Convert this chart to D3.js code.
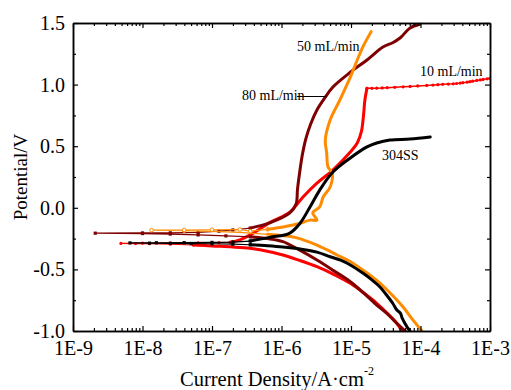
<!DOCTYPE html>
<html><head><meta charset="utf-8">
<script src="https://cdn.jsdelivr.net/npm/d3@7/dist/d3.min.js"></script>
<style>body{margin:0;background:#fff}svg{display:block}</style>
</head><body>
<svg id="chart" width="511" height="390"></svg>
<script>
// ---------- data (points are [log10(current density / A·cm^-2), potential / V]) ----------
const xTickValues = [1e-9, 1e-8, 1e-7, 1e-6, 1e-5, 1e-4, 1e-3];
const xTickLabels = ["1E-9", "1E-8", "1E-7", "1E-6", "1E-5", "1E-4", "1E-3"];
const yTickValues = [-1.0, -0.5, 0.0, 0.5, 1.0, 1.5];
const yTickLabels = ["-1.0", "-0.5", "0.0", "0.5", "1.0", "1.5"];
const seriesNames = ["10 mL/min", "80 mL/min", "50 mL/min", "304SS"];

// 10 mL/min
const red10Cathodic = [[-4.27,-1.0],[-4.34,-0.938],[-4.48,-0.855],[-4.63,-0.775],[-4.82,-0.69],[-5.01,-0.613],[-5.25,-0.54],[-5.49,-0.478],[-5.75,-0.425],[-5.98,-0.383],[-6.31,-0.34],[-6.45,-0.328],[-6.70,-0.318],[-7.0,-0.31],[-7.27,-0.302]];
const red10Spike = [[-7.27,-0.302],[-7.6,-0.296],[-7.9,-0.292],[-8.1,-0.29],[-8.31,-0.289],[-8.0,-0.287],[-7.6,-0.286],[-7.2,-0.285],[-6.9,-0.283],[-6.74,-0.28]];
const red10Anodic = [[-6.74,-0.28],[-6.6,-0.26],[-6.45,-0.22],[-6.17,-0.12],[-5.88,-0.035],[-5.69,0.088],[-5.49,0.2],[-5.26,0.307],[-5.01,0.453],[-4.91,0.526],[-4.85,0.62],[-4.82,0.75],[-4.80,0.875],[-4.77,0.97]];
const red10Plateau = [[-4.77,0.97],[-4.70,0.970],[-4.63,0.971],[-4.55,0.973],[-4.48,0.975],[-4.37,0.978],[-4.25,0.982],[-4.15,0.985],[-4.04,0.989],[-3.91,0.993],[-3.82,0.996],[-3.75,0.999],[-3.68,1.002],[-3.60,1.004],[-3.53,1.006],[-3.48,1.009],[-3.43,1.012],[-3.39,1.016],[-3.33,1.020],[-3.29,1.024],[-3.25,1.028],[-3.19,1.034],[-3.14,1.038],[-3.10,1.042],[-3.04,1.047],[-3.00,1.051]];

// 80 mL/min
const dred80Cathodic = [[-4.22,-1.0],[-4.34,-0.938],[-4.48,-0.86],[-4.63,-0.789],[-4.82,-0.69],[-5.01,-0.60],[-5.25,-0.51],[-5.49,-0.424],[-5.75,-0.34],[-5.98,-0.275],[-6.2,-0.25],[-6.45,-0.235]];
const dred80Spike = [[-6.45,-0.235],[-6.8,-0.228],[-7.2,-0.22],[-7.6,-0.213],[-8.0,-0.209],[-8.68,-0.206],[-8.0,-0.204],[-7.6,-0.203],[-7.2,-0.2],[-6.9,-0.19],[-6.7,-0.18],[-6.45,-0.165]];
const dred80Anodic = [[-6.45,-0.165],[-6.17,-0.123],[-5.88,-0.042],[-5.79,0.03],[-5.77,0.15],[-5.74,0.282],[-5.70,0.43],[-5.65,0.56],[-5.58,0.68],[-5.49,0.794],[-5.38,0.89],[-5.26,0.98],[-5.01,1.10],[-4.77,1.20],[-4.54,1.305],[-4.40,1.34],[-4.29,1.38],[-4.15,1.46],[-4.01,1.49]];

// 50 mL/min
const or50Cathodic = [[-3.98,-1.0],[-4.11,-0.91],[-4.25,-0.805],[-4.48,-0.667],[-4.65,-0.58],[-4.83,-0.505],[-5.0,-0.44],[-5.20,-0.383],[-5.35,-0.34],[-5.49,-0.302],[-5.69,-0.26],[-5.83,-0.237],[-6.2,-0.215],[-6.6,-0.2],[-7.0,-0.192],[-7.4,-0.186]];
const or50Spike = [[-7.4,-0.186],[-7.87,-0.182],[-7.4,-0.18],[-7.0,-0.178],[-6.6,-0.176],[-6.45,-0.19],[-6.2,-0.175]];
const or50Anodic = [[-6.2,-0.175],[-5.98,-0.156],[-5.75,-0.13],[-5.59,-0.10],[-5.49,-0.10],[-5.55,-0.04],[-5.45,0.007],[-5.40,0.088],[-5.30,0.169],[-5.27,0.282],[-5.33,0.33],[-5.35,0.445],[-5.37,0.55],[-5.30,0.713],[-5.16,0.875],[-5.01,1.06],[-4.91,1.20],[-4.83,1.305],[-4.71,1.43]];

// 304SS
const ss304Cathodic = [[-4.15,-1.0],[-4.19,-0.97],[-4.26,-0.90],[-4.29,-0.855],[-4.34,-0.83],[-4.40,-0.775],[-4.50,-0.70],[-4.58,-0.645],[-4.70,-0.585],[-4.83,-0.53],[-5.01,-0.464],[-5.15,-0.425],[-5.30,-0.397],[-5.49,-0.36],[-5.73,-0.335],[-5.98,-0.318],[-6.2,-0.308],[-6.45,-0.30]];
const ss304Spike = [[-6.45,-0.30],[-6.7,-0.295],[-7.0,-0.292],[-7.3,-0.29],[-7.6,-0.288],[-7.9,-0.287],[-8.18,-0.285],[-7.8,-0.284],[-7.4,-0.283],[-7.0,-0.281],[-6.7,-0.278],[-6.45,-0.27]];
const ss304Anodic = [[-6.45,-0.27],[-6.17,-0.24],[-5.88,-0.205],[-5.73,-0.123],[-5.59,0.007],[-5.45,0.144],[-5.26,0.29],[-5.01,0.404],[-4.77,0.494],[-4.63,0.526],[-4.44,0.55],[-4.15,0.558],[-3.86,0.575]];

// ---------- drawing ----------
const W = 511, H = 390;
const M = {left: 73, right: 21, top: 23, bottom: 59};
const svg = d3.select("#chart");
const x = d3.scaleLog().domain([1e-9, 1e-3]).range([M.left, W - M.right]);
const y = d3.scaleLinear().domain([-1.0, 1.5]).range([H - M.bottom, M.top]);
const FONT = "'Liberation Serif','Times New Roman',serif";

const minorX = [];
for (let e = -9; e < -3; e++) for (let k = 2; k <= 9; k++) minorX.push(k * Math.pow(10, e));
const minorY = [-0.75, -0.25, 0.25, 0.75, 1.25];

svg.append("defs").append("clipPath").attr("id", "plotclip")
  .append("rect").attr("x", M.left).attr("y", M.top - 2)
  .attr("width", W - M.left - M.right).attr("height", H - M.top - M.bottom + 2);

const smooth = d3.line().x(d => x(Math.pow(10, d[0]))).y(d => y(d[1])).curve(d3.curveCatmullRom.alpha(0.5));
const straight = d3.line().x(d => x(Math.pow(10, d[0]))).y(d => y(d[1]));
const plot = svg.append("g").attr("clip-path", "url(#plotclip)");

function thick(data, color) {
  plot.append("path").datum(data).attr("d", smooth).attr("fill", "none")
    .attr("stroke", color).attr("stroke-width", 3).attr("stroke-linejoin", "round").attr("stroke-linecap", "round");
}
function thin(data, color, w) {
  plot.append("path").datum(data).attr("d", straight).attr("fill", "none")
    .attr("stroke", color).attr("stroke-width", w || 1.2).attr("stroke-linejoin", "round");
}
function markers(data, color, shape) {
  const g = plot.append("g");
  data.forEach(d => {
    const cx = x(Math.pow(10, d[0])), cy = y(d[1]);
    if (shape === "square") g.append("rect").attr("x", cx - 1.6).attr("y", cy - 1.6).attr("width", 3.2).attr("height", 3.2).attr("fill", color);
    else if (shape === "open") g.append("circle").attr("cx", cx).attr("cy", cy).attr("r", 1.8).attr("fill", "#fff").attr("stroke", color).attr("stroke-width", 1);
    else g.append("circle").attr("cx", cx).attr("cy", cy).attr("r", 1.6).attr("fill", color);
  });
}

const C = {red: "#ff0000", dred: "#7f0000", orange: "#ff8c00", black: "#000000"};

// 10 mL/min
thick(red10Cathodic, C.red); thin(red10Spike, C.red); markers(red10Spike, C.red, "dot");
thick(red10Anodic, C.red); thin(red10Plateau, C.red, 1.5); markers(red10Plateau, C.red, "dot");
// 80 mL/min
thick(dred80Cathodic, C.dred); thin(dred80Spike, C.dred); markers(dred80Spike, C.dred, "square");
thick(dred80Anodic, C.dred);
// 50 mL/min
thick(or50Cathodic.slice(0, 13), C.orange); thin(or50Cathodic.slice(12), C.orange);
thin(or50Spike, C.orange); markers(or50Spike, C.orange, "open");
thick(or50Anodic, C.orange);
// 304SS
thick(ss304Cathodic, C.black); thin(ss304Spike, C.black); markers(ss304Spike, C.black, "square");
thick(ss304Anodic, C.black);

// ---------- axes ----------
function styleAxis(g) {
  g.select(".domain").attr("stroke", "#000").attr("stroke-width", 1.5);
  g.selectAll(".tick line").attr("stroke", "#000").attr("stroke-width", 1.2);
  g.selectAll("text").attr("font-family", FONT).attr("font-size", 20).attr("fill", "#000");
}
const bottomY = H - M.bottom, rightX = W - M.right;
const fmtX = d => xTickLabels[xTickValues.indexOf(d)];
const fmtY = d => yTickLabels[yTickValues.indexOf(d)];

svg.append("g").attr("transform", `translate(0,${bottomY})`)
  .call(d3.axisBottom(x).tickValues(minorX).tickSize(-3).tickFormat("").tickSizeOuter(0)).call(styleAxis);
svg.append("g").attr("transform", `translate(0,${bottomY})`)
  .call(d3.axisBottom(x).tickValues(xTickValues).tickSize(-5).tickPadding(10).tickFormat(fmtX).tickSizeOuter(0)).call(styleAxis);
svg.append("g").attr("transform", `translate(0,${M.top})`)
  .call(d3.axisTop(x).tickValues(minorX).tickSize(-3).tickFormat("").tickSizeOuter(0)).call(styleAxis);
svg.append("g").attr("transform", `translate(0,${M.top})`)
  .call(d3.axisTop(x).tickValues(xTickValues).tickSize(-5).tickFormat("").tickSizeOuter(0)).call(styleAxis);

svg.append("g").attr("transform", `translate(${M.left},0)`)
  .call(d3.axisLeft(y).tickValues(minorY).tickSize(-3).tickFormat("").tickSizeOuter(0)).call(styleAxis);
svg.append("g").attr("transform", `translate(${M.left},0)`)
  .call(d3.axisLeft(y).tickValues(yTickValues).tickSize(-5).tickPadding(8).tickFormat(fmtY).tickSizeOuter(0)).call(styleAxis);
svg.append("g").attr("transform", `translate(${rightX},0)`)
  .call(d3.axisRight(y).tickValues(minorY).tickSize(-3).tickFormat("").tickSizeOuter(0)).call(styleAxis);
svg.append("g").attr("transform", `translate(${rightX},0)`)
  .call(d3.axisRight(y).tickValues(yTickValues).tickSize(-5).tickFormat("").tickSizeOuter(0)).call(styleAxis);

// ---------- axis titles ----------
svg.append("text").attr("transform", `translate(27,177) rotate(-90)`)
  .attr("text-anchor", "middle").attr("font-family", FONT).attr("font-size", 19).text("Potential/V");
const xt = svg.append("text").attr("x", 180).attr("y", 386)
  .attr("text-anchor", "start").attr("font-family", FONT).attr("font-size", 20.5);
xt.append("tspan").text("Current Density/A·cm");
xt.append("tspan").attr("font-size", 12).attr("dy", -11).text("-2");

// ---------- curve labels ----------
const labels = [
  {t: seriesNames[2], x: 297, y: 51},
  {t: seriesNames[0], x: 420, y: 76},
  {t: seriesNames[1], x: 242, y: 100},
  {t: seriesNames[3], x: 382, y: 160}
];
labels.forEach(l => svg.append("text").attr("x", l.x).attr("y", l.y)
  .attr("font-family", FONT).attr("font-size", 14).attr("fill", "#000").text(l.t));
// leader line for 80 mL/min
svg.append("line").attr("x1", 297).attr("x2", x(Math.pow(10, -5.35))).attr("y1", 96.5).attr("y2", 96.5)
  .attr("stroke", "#000").attr("stroke-width", 1);
</script>
</body></html>
